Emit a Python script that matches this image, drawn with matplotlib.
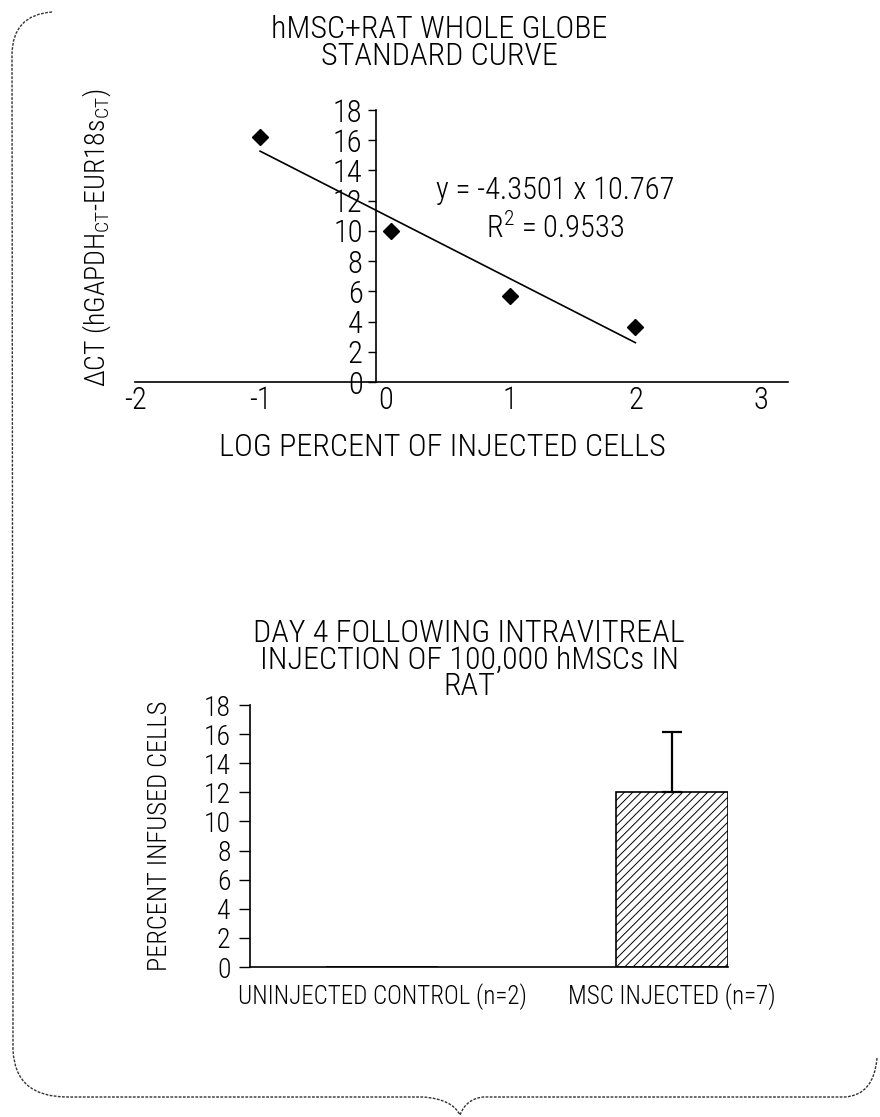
import numpy as np
import matplotlib
matplotlib.use('Agg')
import matplotlib.pyplot as plt
from matplotlib import font_manager
from matplotlib.path import Path
from matplotlib.patches import PathPatch

# the scanned figure uses a condensed sans face; take the narrowest one available
fonts = font_manager.fontManager.ttflist
names = {f.name for f in fonts}
family = 'DejaVu Sans'
for cand in ['Roboto Condensed', 'Liberation Sans Narrow', 'Open Sans Condensed']:
    if cand in names:
        family = cand
        break
plt.rcParams['font.family'] = [family, 'DejaVu Sans']
if family == 'DejaVu Sans':
    plt.rcParams['font.stretch'] = 'condensed'
plt.rcParams['font.weight'] = 'light'
plt.rcParams['axes.titleweight'] = 'light'
plt.rcParams['axes.labelweight'] = 'light'
plt.rcParams['mathtext.fontset'] = 'custom'
plt.rcParams['mathtext.rm'] = family + ':light'
plt.rcParams['axes.unicode_minus'] = False
plt.rcParams['hatch.linewidth'] = 0.7

# standard curve data
log_percent = [-1, 0.05, 1, 2]
delta_ct = [16.2, 10.0, 5.7, 3.65]
curve_xticks = [-2, -1, 0, 1, 2, 3]
curve_yticks = [0, 2, 4, 6, 8, 10, 12, 14, 16, 18]

# day 4 bar data
groups = ['UNINJECTED CONTROL (n=2)', 'MSC INJECTED (n=7)']
percent_infused = [0, 12.05]
percent_err = [0, 4.1]
bar_yticks = [0, 2, 4, 6, 8, 10, 12, 14, 16, 18]

W, H = 880, 1117
fig = plt.figure(figsize=(W / 100, H / 100), dpi=100)

# ---- top: standard curve ----
ax1 = fig.add_axes([135 / W, 1 - 382 / H, 653 / W, 272 / H])
ax1.set_xlim(-2, 3.22)
ax1.set_ylim(0, 18)
for s in ['top', 'right']:
    ax1.spines[s].set_visible(False)
ax1.spines['left'].set_position(('data', -0.07))
for s in ['left', 'bottom']:
    ax1.spines[s].set_linewidth(1.2)

ax1.plot(log_percent, delta_ct, 'D', color='black', markersize=8, zorder=3)
slope, intercept = np.polyfit(log_percent, delta_ct, 1)
fit_x = np.array([min(log_percent), max(log_percent)])
ax1.plot(fit_x, slope * fit_x + intercept, color='black', linewidth=1.2)

ax1.set_xticks(curve_xticks)
ax1.set_yticks(curve_yticks)
ax1.tick_params(axis='x', length=0, pad=3, labelsize=22)
ax1.tick_params(axis='y', direction='out', length=6, width=1, pad=4, labelsize=22)
for lbl in ax1.get_yticklabels():
    lbl.set_bbox(dict(facecolor='white', edgecolor='none', pad=1))

ax1.text(1.36, 12.65, 'y = -4.3501 x 10.767', ha='center', va='center', fontsize=22)
ax1.text(1.36, 10.2, 'R$^2$ = 0.9533', ha='center', va='center', fontsize=22)

ax1.set_title('hMSC+RAT WHOLE GLOBE\nSTANDARD CURVE', x=(439 - 135) / 653,
              y=(382 - 43) / 272, va='center', fontsize=23, linespacing=0.89, pad=0)
ax1.set_xlabel('LOG PERCENT OF INJECTED CELLS', fontsize=23)
ax1.xaxis.set_label_coords((442 - 135) / 653, (382 - 447) / 272)
ax1.xaxis.label.set_va('center')
ax1.set_ylabel(r'$\Delta$CT (hGAPDH$_{\rm CT}$-EUR18s$_{\rm CT}$)', fontsize=20)
ax1.yaxis.set_label_coords((97 - 135) / 653, (382 - 238) / 272)
ax1.yaxis.label.set_va('center')

# ---- bottom: bar chart ----
ax2 = fig.add_axes([250 / W, 1 - 967 / H, 478 / W, 262 / H])
xpos = np.arange(len(groups))
ax2.set_xlim(-0.455, 1.193)
ax2.set_ylim(0, 18)
for s in ['top', 'right']:
    ax2.spines[s].set_visible(False)
for s in ['left', 'bottom']:
    ax2.spines[s].set_linewidth(1.2)

ax2.bar(xpos, percent_infused, width=0.386, facecolor='white', edgecolor='black',
        hatch='////', linewidth=1.2, zorder=2)
for x, v, e in zip(xpos, percent_infused, percent_err):
    if e > 0:
        ax2.errorbar(x, v, yerr=[[0], [e]], fmt='none', ecolor='black',
                     elinewidth=1.6, capsize=7, capthick=1.6, zorder=3)

ax2.set_xticks(xpos)
ax2.set_xticklabels(groups)
ax2.set_yticks(bar_yticks)
ax2.tick_params(axis='x', length=0, pad=12, labelsize=18)
ax2.tick_params(axis='y', direction='out', length=8, width=1, pad=6, labelsize=20)

ax2.set_title('DAY 4 FOLLOWING INTRAVITREAL\nINJECTION OF 100,000 hMSCs IN\nRAT',
              x=(469 - 250) / 478, y=(967 - 660) / 262, va='center', fontsize=23,
              linespacing=0.89, pad=0)
ax2.set_ylabel('PERCENT INFUSED CELLS', fontsize=19)
ax2.yaxis.set_label_coords((160 - 250) / 478, (967 - 836) / 262)
ax2.yaxis.label.set_va('center')

# ---- bracket frame around the figure ----
frame = fig.add_axes([0, 0, 1, 1], zorder=-1)
frame.set_xlim(0, W)
frame.set_ylim(H, 0)
frame.axis('off')
verts = [(52, 12), (12, 15), (12, 55),
         (13, 1050),
         (15, 1097), (67, 1097),
         (423, 1097),
         (452, 1099), (460, 1115),
         (466, 1099), (483, 1097),
         (845, 1097),
         (874, 1095), (877, 1058)]
codes = [Path.MOVETO, Path.CURVE3, Path.CURVE3,
         Path.LINETO,
         Path.CURVE3, Path.CURVE3,
         Path.LINETO,
         Path.CURVE3, Path.CURVE3,
         Path.CURVE3, Path.CURVE3,
         Path.LINETO,
         Path.CURVE3, Path.CURVE3]
frame.add_patch(PathPatch(Path(verts, codes), facecolor='none', edgecolor='#333333',
                          linewidth=1.0, linestyle=(0, (2, 1))))

fig.savefig('out.png', dpi=100)
